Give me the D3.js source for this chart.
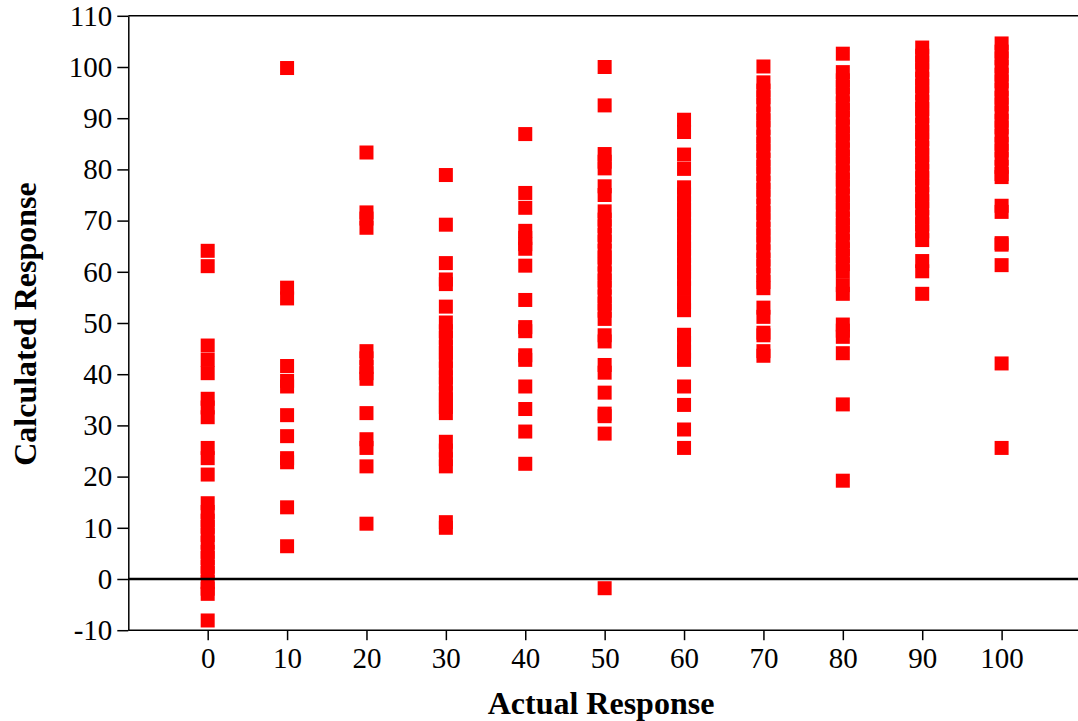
<!DOCTYPE html>
<html><head><meta charset="utf-8">
<script src="https://cdn.jsdelivr.net/npm/d3@7"></script>
<style>body{margin:0;background:#fff}svg{display:block}</style>
</head><body>
<script>
// ---- data ----
const actualLevels = [0,10,20,30,40,50,60,70,80,90,100];
const xTicks = [0,10,20,30,40,50,60,70,80,90,100];
const yTicks = [-10,0,10,20,30,40,50,60,70,80,90,100,110];
const calc0 = [64.1,61.1,45.6,42.8,40.2,35.2,33.5,31.6,25.6,23.6,20.4,14.8,13.1,11.4,10.2,8.6,7.1,5.3,4.1,2.4,1.2,-0.6,-1.9,-2.9,-8.1];
const calc10 = [99.8,56.9,54.8,41.6,38.7,37.6,32.0,27.9,23.6,22.8,14.0,6.4];
const calc20 = [83.3,71.6,70.4,68.6,44.5,43.1,41.4,40.2,39.1,32.4,27.3,25.6,22.0,10.8];
const calc30 = [78.9,69.2,61.7,58.5,57.6,53.2,50.1,48.4,47.1,45.3,44.2,42.6,41.1,39.4,38.2,36.3,35.1,33.6,32.4,26.8,25.1,23.4,22.0,11.1,10.0];
const calc40 = [86.9,75.4,72.5,68.0,66.6,65.4,64.5,61.2,54.5,49.2,48.4,43.7,42.8,37.6,33.2,28.8,22.5];
const calc50 = [100.0,92.5,83.0,81.5,80.2,76.7,75.0,71.8,70.2,68.9,67.2,65.9,64.1,62.8,61.4,59.7,58.3,56.9,55.2,53.8,52.4,50.8,47.6,46.4,41.8,40.3,36.4,32.3,31.8,28.4,-1.8];
const calc60 = [89.7,87.3,82.9,80.1,76.5,75.1,73.4,72.1,70.4,69.0,67.6,65.9,64.5,63.1,61.4,60.0,58.6,56.8,54.1,52.5,47.7,46.1,44.4,42.8,37.6,34.0,29.2,25.6];
const calc70 = [100.1,97.0,95.4,94.1,92.6,90.9,89.6,88.1,86.4,85.0,83.6,81.9,80.5,79.1,77.4,76.0,74.6,72.9,71.5,70.1,68.4,67.1,65.6,64.0,62.4,61.1,59.4,58.0,56.8,53.0,51.2,48.1,47.6,44.5,43.6];
const calc80 = [102.6,99.0,97.4,96.1,94.6,92.9,91.6,90.1,88.4,87.0,85.6,83.9,82.5,81.1,79.4,78.0,76.6,74.9,73.5,72.1,70.4,69.1,67.6,66.0,64.4,63.1,61.5,60.1,57.4,55.7,49.7,48.5,47.3,44.1,34.1,19.2];
const calc90 = [103.8,102.2,100.9,99.4,97.7,96.3,94.9,93.2,91.8,90.4,88.7,87.3,85.9,84.2,82.8,81.4,79.7,78.3,76.9,75.2,73.8,72.4,70.7,69.3,67.9,66.2,62.1,60.1,55.7];
const calc100 = [104.6,103.0,101.7,100.1,98.5,97.2,95.6,94.0,92.7,91.1,89.5,88.2,86.6,85.0,83.7,82.1,80.5,79.1,78.5,72.9,71.7,65.6,65.3,61.3,42.1,25.6];
const calculated = [calc0,calc10,calc20,calc30,calc40,calc50,calc60,calc70,calc80,calc90,calc100];

const points = [];
actualLevels.forEach((a,i)=>calculated[i].forEach(c=>points.push({actual:a,calc:c})));

// ---- layout ----
const W = 1078, H = 721;
const svg = d3.select("body").append("svg").attr("width",W).attr("height",H);
const x = d3.scaleLinear().domain([-10,110]).range([128.3,1081]);
const y = d3.scaleLinear().domain([-10,110]).range([630.2,15.8]);
const font = "'Liberation Serif','Times New Roman',serif";
const fmt = d => String(d); // plain hyphen minus as in the original

svg.append("line").attr("x1",x(-10)).attr("x2",W).attr("y1",y(110)).attr("y2",y(110))
  .attr("stroke","#000").attr("stroke-width",1.5);

const sq = 14;
svg.append("g").selectAll("rect").data(points).join("rect")
  .attr("x",d=>x(d.actual)-sq/2).attr("y",d=>y(d.calc)-sq/2)
  .attr("width",sq).attr("height",sq).attr("fill","#ff0000");

svg.append("line").attr("x1",x(-10)).attr("x2",W).attr("y1",y(0)).attr("y2",y(0))
  .attr("stroke","#000").attr("stroke-width",2.5);

const yAxis = svg.append("g").attr("transform",`translate(${x(-10)},0)`)
  .call(d3.axisLeft(y).tickValues(yTicks).tickFormat(fmt).tickSize(11).tickSizeOuter(0).tickPadding(5));
const xAxis = svg.append("g").attr("transform",`translate(0,${y(-10)})`)
  .call(d3.axisBottom(x).tickValues(xTicks).tickFormat(fmt).tickSize(10).tickSizeOuter(0).tickPadding(7));
[xAxis,yAxis].forEach(g=>{
  g.select(".domain").attr("stroke","#000").attr("stroke-width",1.5);
  g.selectAll(".tick line").attr("stroke","#000").attr("stroke-width",1.5);
  g.selectAll(".tick text").attr("fill","#000").attr("font-family",font).attr("font-size",29);
});
xAxis.select(".domain").attr("d",`M${x(-10)},0H${W}`);

svg.append("text").attr("x",601).attr("y",714).attr("text-anchor","middle")
  .attr("font-family",font).attr("font-weight","bold").attr("font-size",32)
  .text("Actual Response");
svg.append("text").attr("transform",`translate(36,324) rotate(-90)`).attr("text-anchor","middle")
  .attr("font-family",font).attr("font-weight","bold").attr("font-size",32)
  .text("Calculated Response");
</script>
</body></html>
